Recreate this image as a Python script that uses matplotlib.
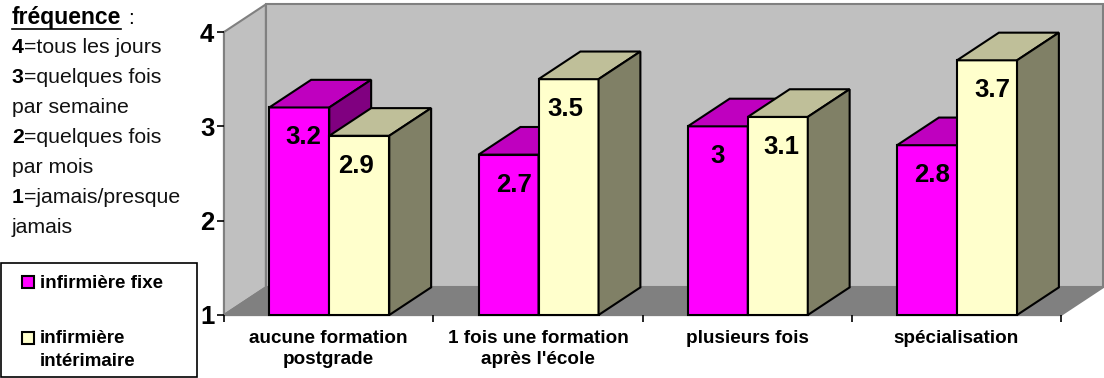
import numpy as np
import matplotlib
matplotlib.use('Agg')
import matplotlib.pyplot as plt
from matplotlib.patches import Polygon, Patch, Rectangle

plt.rcParams['font.family'] = 'Liberation Sans'

categories = ['aucune formation\npostgrade', "1 fois une formation\naprès l'école",
              'plusieurs fois', 'spécialisation']
fixe = [3.2, 2.7, 3.0, 2.8]
interim = [2.9, 3.5, 3.1, 3.7]
series_names = ['infirmière fixe', 'infirmière\nintérimaire']
y_ticks = [1, 2, 3, 4]

legend_lines = [('4', '=tous les jours'), ('3', '=quelques fois'), ('', 'par semaine'),
                ('2', '=quelques fois'), ('', 'par mois'), ('1', '=jamais/presque'), ('', 'jamais')]

W, H = 1104, 378
# 3d depth of the chart, in data units
DX = 0.2
DY = 0.293
BAR_W = 0.2867
BAR_START = 0.2165

PINK = ('#FF00FF', '#BF00BF', '#800080')
CREAM = ('#FFFFCC', '#BFBF99', '#808066')


def fig_xy(x, y):
    return x / W, 1 - y / H


def draw_box(ax, x, value, colors):
    """Front face with ax.bar, then the top and right side as polygons"""
    ax.bar(x, value - 1, BAR_W, bottom=1, align='edge', color=colors[0],
           edgecolor='black', linewidth=1.5, clip_on=False)
    top = [(x, value), (x + DX, value + DY), (x + BAR_W + DX, value + DY), (x + BAR_W, value)]
    side = [(x + BAR_W, value), (x + BAR_W + DX, value + DY), (x + BAR_W + DX, 1 + DY), (x + BAR_W, 1)]
    ax.add_patch(Polygon(top, facecolor=colors[1], edgecolor='black', linewidth=1.5, clip_on=False))
    ax.add_patch(Polygon(side, facecolor=colors[2], edgecolor='black', linewidth=1.5, clip_on=False))


fig = plt.figure(figsize=(W / 100, H / 100), dpi=100, facecolor='white')
ax = fig.add_axes([224 / W, (H - 315) / H, 837 / W, 283 / H])
ax.set_xlim(0, 4)
ax.set_ylim(1, 4)
ax.patch.set_visible(False)

# walls and floor
n = len(categories)
back = [(DX, 1 + DY), (n + DX, 1 + DY), (n + DX, 4 + DY), (DX, 4 + DY)]
left = [(0, 1), (DX, 1 + DY), (DX, 4 + DY), (0, 4)]
floor = [(0, 1), (DX, 1 + DY), (n + DX, 1 + DY), (n, 1)]
for pts, col in [(back, '#C0C0C0'), (left, '#C0C0C0'), (floor, '#808080')]:
    ax.add_patch(Polygon(pts, facecolor=col, edgecolor='#808080', linewidth=1.5, clip_on=False))

# value labels sit a bit below the bar top, slightly off centre like the original
nudge_fixe = [4, 6, 0, 5]
nudge_interim = [-3, -3, 4, 5]
for i in range(n):
    x0 = i + BAR_START
    draw_box(ax, x0, fixe[i], PINK)
    draw_box(ax, x0 + BAR_W, interim[i], CREAM)
for i in range(n):
    x0 = i + BAR_START
    for x, v, d in [(x0, fixe[i], nudge_fixe[i]), (x0 + BAR_W, interim[i], nudge_interim[i])]:
        ax.annotate('%g' % v, (x + BAR_W / 2, v), xytext=(d * 0.72, -30 * 0.72),
                    textcoords='offset points', ha='center', va='center',
                    fontsize=18.5, fontweight='bold', color='black')

for s in ['top', 'right']:
    ax.spines[s].set_visible(False)
for s in ['left', 'bottom']:
    ax.spines[s].set_linewidth(1.5)
    ax.spines[s].set_zorder(0.5)

ax.set_yticks(y_ticks)
ax.set_yticklabels([str(t) for t in y_ticks], fontsize=18.5, fontweight='bold')
ax.tick_params(axis='y', length=5, width=1.2, pad=2)
ax.set_xticks(np.arange(n + 1))
ax.set_xticklabels([])
ax.tick_params(axis='x', which='major', length=5, width=1.2)
ax.set_xticks(np.arange(n) + 0.5, minor=True)
ax.set_xticklabels(categories, minor=True, fontsize=13.6, fontweight='bold', linespacing=1.32)
ax.tick_params(axis='x', which='minor', length=0, pad=11)

# frequency explanation on the left, bold digit followed by regular text
t = fig.text(*fig_xy(12, 24), 'fréquence', fontsize=16.5, fontweight='bold', va='baseline')
fig.canvas.draw()
bb = t.get_window_extent()
fig.add_artist(plt.Line2D([12 / W, bb.x1 / W], [1 - 29 / H, 1 - 29 / H], color='black', linewidth=1.2))
fig.text(*fig_xy(bb.x1 + 7, 24), ':', fontsize=15, va='baseline')

line_y = 53
for digit, rest in legend_lines:
    x = 12
    if digit:
        d = fig.text(*fig_xy(x, line_y), digit, fontsize=15.3, fontweight='bold', va='baseline')
        x = d.get_window_extent(fig.canvas.get_renderer()).x1
    fig.text(*fig_xy(x, line_y), rest, fontsize=15.3, va='baseline', color='#111111')
    line_y += 30

# legend box drawn by hand so the entries can sit where they do in the original
fig.add_artist(Rectangle((0.6 / W, 1 / H), 196.5 / W, 114 / H, transform=fig.transFigure,
                         facecolor='white', edgecolor='black', linewidth=1.2))
handles = [Patch(facecolor=PINK[0], edgecolor='black', linewidth=1.5),
           Patch(facecolor=CREAM[0], edgecolor='black', linewidth=1.5)]
leg = fig.legend(handles, series_names, loc='lower left', bbox_to_anchor=(0.0, -4 / H, 197 / W, 0.3),
                 mode='expand', borderaxespad=0.1, frameon=False,
                 prop={'size': 13.5, 'weight': 'bold'},
                 handlelength=1.17, handleheight=0.62, handletextpad=0.3,
                 labelspacing=2.0, borderpad=0.55, alignment='left')
for h in leg.legend_handles:
    h.set_x(h.get_x() + 7.2)
    h.set_width(8.4)
# the handle of the two line label sits on its first line
leg.legend_handles[1].set_y(leg.legend_handles[1].get_y() + 8.5)
for text in leg.get_texts():
    text.set_linespacing(1.45)

fig.savefig('out.png', dpi=100)
